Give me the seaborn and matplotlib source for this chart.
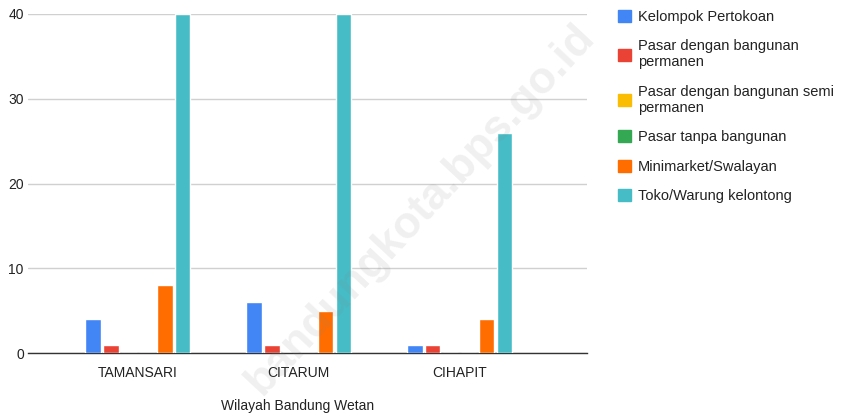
import pandas as pd
import matplotlib.pyplot as plt
import seaborn as sns

# ---------- data ----------
wilayah = ["TAMANSARI", "CITARUM", "CIHAPIT"]
jenis = [
    "Kelompok Pertokoan",
    "Pasar dengan bangunan\npermanen",
    "Pasar dengan bangunan semi\npermanen",
    "Pasar tanpa bangunan",
    "Minimarket/Swalayan",
    "Toko/Warung kelontong",
]
kelompok_pertokoan = [4, 6, 1]
pasar_permanen = [1, 1, 1]
pasar_semi_permanen = [0, 0, 0]
pasar_tanpa_bangunan = [0, 0, 0]
minimarket = [8, 5, 4]
toko_warung = [40, 40, 26]
colors = ["#4285F4", "#EA4335", "#FBBC04", "#34A853", "#FF6D01", "#46BDC6"]

series = [kelompok_pertokoan, pasar_permanen, pasar_semi_permanen,
          pasar_tanpa_bangunan, minimarket, toko_warung]
rows = []
for name, vals in zip(jenis, series):
    for w, v in zip(wilayah, vals):
        rows.append({"Wilayah": w, "Jenis": name, "Jumlah": v})
df = pd.DataFrame(rows)

# ---------- plot ----------
sns.set_style("white")
plt.rcParams["font.family"] = ["Liberation Sans", "DejaVu Sans"]

fig = plt.figure(figsize=(8.41, 4.19), dpi=100)
ax = fig.add_axes([0.0333, 0.1575, 0.6646, 0.8091])

sns.barplot(data=df, x="Wilayah", y="Jumlah", hue="Jenis", hue_order=jenis,
            palette=colors, width=0.67, gap=0.15, ax=ax, legend=False,
            saturation=1, zorder=3)

ax.set_xlim(-0.683, 2.79)
ax.set_ylim(0, 40)
ax.set_yticks([0, 10, 20, 30, 40])
ax.yaxis.grid(True, color="#d0d0d0", linewidth=1, zorder=0)
ax.set_axisbelow(True)
for s in ["top", "right", "left"]:
    ax.spines[s].set_visible(False)
ax.spines["bottom"].set_color("#333333")
ax.spines["bottom"].set_linewidth(1)
ax.tick_params(axis="both", length=0, labelsize=10, colors="#222222")
ax.tick_params(axis="x", pad=9)
ax.tick_params(axis="y", pad=3)
ax.set_ylabel("")
ax.set_xlabel("Wilayah Bandung Wetan", fontsize=10, color="#222222")
ax.xaxis.set_label_coords(0.483, -0.135)

# legend on the right
handles = [plt.Rectangle((0, 0), 1, 1, color=c) for c in colors]
fig.legend(handles, jenis, loc="upper left", bbox_to_anchor=(0.719, 1.008),
           frameon=False, fontsize=10.5, handlelength=0.9, handleheight=0.9,
           handletextpad=0.5, labelspacing=1.05, labelcolor="#222222")

# watermark
fig.text(0.50, 0.50, "bandungkota.bps.go.id", rotation=47, fontsize=32,
         fontweight="bold", color="#808080", alpha=0.12,
         ha="center", va="center", zorder=10)

fig.savefig("out.png", dpi=100)
